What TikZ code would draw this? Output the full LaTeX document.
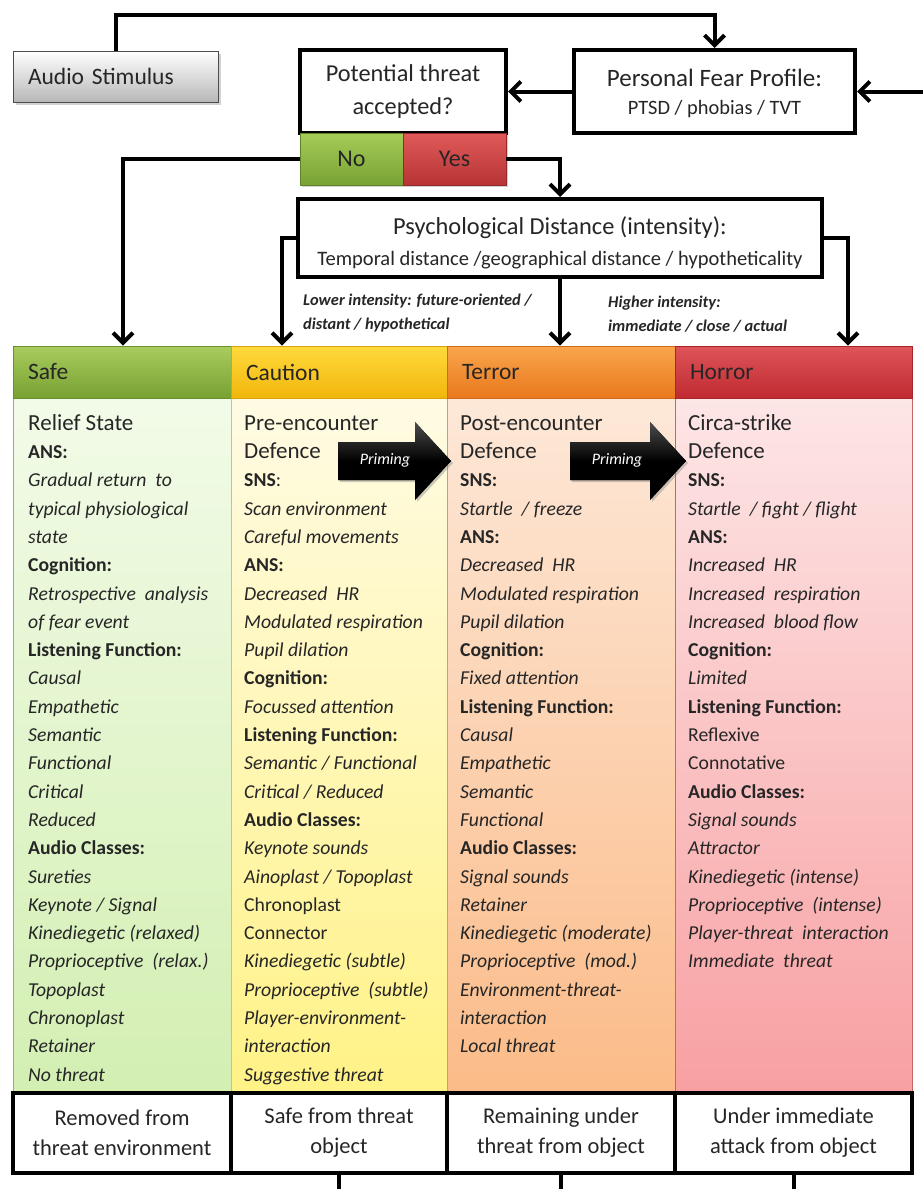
\documentclass[tikz,border=0pt]{standalone}
\usepackage{fontspec}
\setmainfont{Carlito}
\usetikzlibrary{arrows.meta,shadows,calc}

\definecolor{ink}{HTML}{262626}
% header bars
\definecolor{safeT}{HTML}{A9CD5E}\definecolor{safeB}{HTML}{78A032}\definecolor{safeD}{HTML}{6A8F2C}
\definecolor{cauT}{HTML}{FFDA3C}\definecolor{cauB}{HTML}{F2B60C}\definecolor{cauD}{HTML}{D9A20A}
\definecolor{terT}{HTML}{F9A64C}\definecolor{terB}{HTML}{E9781C}\definecolor{terD}{HTML}{D06A18}
\definecolor{horT}{HTML}{DE555A}\definecolor{horB}{HTML}{C02A30}\definecolor{horD}{HTML}{A82428}
% column bodies
\definecolor{safeLT}{HTML}{F2FBE8}\definecolor{safeLB}{HTML}{D3EFB2}
\definecolor{cauLT}{HTML}{FFFBE4}\definecolor{cauLB}{HTML}{FFF286}
\definecolor{terLT}{HTML}{FDE8D8}\definecolor{terLB}{HTML}{FBBB88}
\definecolor{horLT}{HTML}{FDE6E6}\definecolor{horLB}{HTML}{F8A0A2}
% decision buttons
\definecolor{noT}{HTML}{A6CC58}\definecolor{noB}{HTML}{78A234}
\definecolor{yesT}{HTML}{E05A5A}\definecolor{yesB}{HTML}{B83434}

% first line of a text block gets a fixed height so its top edge is predictable
\newcommand{\topline}{\rule{0pt}{19pt}}
\newcommand{\ttl}[1]{{\fontsize{23}{28.3}\selectfont #1}}
\newcommand{\lbl}[1]{\textbf{#1}}
\newcommand{\itm}[1]{\textit{#1}}

\begin{document}
\begin{tikzpicture}[x=1pt,y=-1pt,
  conn/.style={line width=4pt,-{Straight Barb[length=10pt,width=20pt]}},
  wire/.style={line width=4pt},
  thickbox/.style={draw=black,line width=4pt,fill=white,text=ink,align=center,inner sep=0pt},
  hdr/.style={draw=#1,line width=0.8pt,text=ink,align=left,inner xsep=15pt,inner ysep=0pt,
              minimum height=52pt,font=\fontsize{23.5}{26}\selectfont},
  coltext/.style={anchor=north west,align=left,inner sep=0pt,text=ink,
              font=\fontsize{19.7}{28.3}\selectfont},
  btn/.style={draw=#1,line width=0.6pt,minimum width=103pt,minimum height=52pt,inner sep=0pt,
              text=ink,font=\fontsize{24}{26}\selectfont,
              drop shadow={shadow xshift=2pt,shadow yshift=-2pt,opacity=0.35}},
  note/.style={anchor=north west,align=left,inner sep=0pt,text=ink,
              font=\fontsize{16.4}{24.5}\selectfont\bfseries\itshape},
  primer/.style={fill=black,top color=black!70,bottom color=black,middle color=black,
              drop shadow={shadow xshift=2pt,shadow yshift=-2pt,opacity=0.4}},
  primtext/.style={text=white,inner sep=0pt,font=\fontsize{16}{18}\selectfont\itshape}
]
\useasboundingbox (0,0) rectangle (923,1189);
\fill[white] (0,0) rectangle (923,1189);

% ---------- top row ----------
\node[draw=black!70,line width=0.8pt,top color=white,bottom color=black!28,
      minimum width=205pt,minimum height=51pt,text width=175pt,align=left,inner xsep=15pt,
      text=ink,font=\fontsize{23.5}{26}\selectfont,
      drop shadow={shadow xshift=3pt,shadow yshift=-3pt,opacity=0.35}]
  (audio) at (115.5,76.5) {Audio Stimulus};

\node[thickbox,minimum width=206pt,minimum height=83pt,font=\fontsize{24.3}{33}\selectfont]
  (pt) at (403,91.5) {Potential threat\\accepted?};

\node[thickbox,minimum width=281pt,minimum height=83pt,font=\fontsize{25}{28}\selectfont]
  (pfp) at (714.5,91.5) {\rule{0pt}{21pt}Personal Fear Profile:\\{\fontsize{20.4}{28}\selectfont PTSD / phobias / TVT}};

\node[btn=noB!80!black,top color=noT,bottom color=noB] (no) at (351.5,159) {No};
\node[btn=yesB!80!black,top color=yesT,bottom color=yesB] (yes) at (454.5,159) {Yes};

\node[thickbox,minimum width=524pt,minimum height=78pt,font=\fontsize{24.4}{31}\selectfont]
  (psd) at (560,238) {\rule{0pt}{27pt}Psychological Distance (intensity):\\
      {\fontsize{20.5}{31}\selectfont Temporal distance /geographical distance / hypotheticality}};

\node[note] (low) at (303,291) {\rule{0pt}{14pt}Lower intensity: future-oriented /\\distant / hypothetical};
\node[note] (high) at (608,293) {\rule{0pt}{14pt}Higher intensity:\\immediate / close / actual};

% ---------- column bodies ----------
\draw[draw=safeD!70,line width=0.8pt,top color=safeLT,bottom color=safeLB] (13,398) rectangle (231,1093);
\draw[draw=cauD!70,line width=0.8pt,top color=cauLT,bottom color=cauLB] (231,398) rectangle (447,1093);
\draw[draw=terD!70,line width=0.8pt,top color=terLT,bottom color=terLB] (447,398) rectangle (675,1093);
\draw[draw=horD!70,line width=0.8pt,top color=horLT,bottom color=horLB] (675,398) rectangle (912,1093);

% ---------- column headers ----------
\node[hdr=safeD,top color=safeT,bottom color=safeB,text width=188pt] (safeh) at (122,372) {Safe};
\node[hdr=cauD,top color=cauT,bottom color=cauB,text width=186pt] (cauh) at (339,372) {Caution};
\node[hdr=terD,top color=terT,bottom color=terB,text width=198pt] (terh) at (561,372) {Terror};
\node[hdr=horD,top color=horT,bottom color=horB,text width=207pt] (horh) at (793.5,372) {Horror};

% ---------- column contents ----------
\node[coltext] (safetxt) at (28,411) {%
  \topline\ttl{Relief State}\\
  \lbl{ANS:}\\
  \itm{Gradual return\ \ to}\\
  \itm{typical physiological}\\
  \itm{state}\\
  \lbl{Cognition:}\\
  \itm{Retrospective\ \ analysis}\\
  \itm{of fear event}\\
  \lbl{Listening Function:}\\
  \itm{Causal}\\
  \itm{Empathetic}\\
  \itm{Semantic}\\
  \itm{Functional}\\
  \itm{Critical}\\
  \itm{Reduced}\\
  \lbl{Audio Classes:}\\
  \itm{Sureties}\\
  \itm{Keynote / Signal}\\
  \itm{Kinediegetic (relaxed)}\\
  \itm{Proprioceptive\ \ (relax.)}\\
  \itm{Topoplast}\\
  \itm{Chronoplast}\\
  \itm{Retainer}\\
  \itm{No threat}};

\node[coltext] (cautxt) at (244,411) {%
  \topline\ttl{Pre-encounter}\\
  \ttl{Defence}\\
  \lbl{SNS}:\\
  \itm{Scan environment}\\
  \itm{Careful movements}\\
  \lbl{ANS:}\\
  \itm{Decreased\ \ HR}\\
  \itm{Modulated respiration}\\
  \itm{Pupil dilation}\\
  \lbl{Cognition:}\\
  \itm{Focussed attention}\\
  \lbl{Listening Function:}\\
  \itm{Semantic / Functional}\\
  \itm{Critical / Reduced}\\
  \lbl{Audio Classes:}\\
  \itm{Keynote sounds}\\
  \itm{Ainoplast / Topoplast}\\
  Chronoplast\\
  Connector\\
  \itm{Kinediegetic (subtle)}\\
  \itm{Proprioceptive\ \ (subtle)}\\
  \itm{Player-environment-}\\
  \itm{interaction}\\
  \itm{Suggestive threat}};

\node[coltext] (tertxt) at (460,411) {%
  \topline\ttl{Post-encounter}\\
  \ttl{Defence}\\
  \lbl{SNS:}\\
  \itm{Startle\ \ / freeze}\\
  \lbl{ANS:}\\
  \itm{Decreased\ \ HR}\\
  \itm{Modulated respiration}\\
  \itm{Pupil dilation}\\
  \lbl{Cognition:}\\
  \itm{Fixed attention}\\
  \lbl{Listening Function:}\\
  \itm{Causal}\\
  \itm{Empathetic}\\
  \itm{Semantic}\\
  \itm{Functional}\\
  \lbl{Audio Classes:}\\
  \itm{Signal sounds}\\
  \itm{Retainer}\\
  \itm{Kinediegetic (moderate)}\\
  \itm{Proprioceptive\ \ (mod.)}\\
  \itm{Environment-threat-}\\
  \itm{interaction}\\
  \itm{Local threat}};

\node[coltext] (hortxt) at (688,411) {%
  \topline\ttl{Circa-strike}\\
  \ttl{Defence}\\
  \lbl{SNS:}\\
  \itm{Startle\ \ / fight / flight}\\
  \lbl{ANS:}\\
  \itm{Increased\ \ HR}\\
  \itm{Increased\ \ respiration}\\
  \itm{Increased\ \ blood flow}\\
  \lbl{Cognition:}\\
  \itm{Limited}\\
  \lbl{Listening Function:}\\
  Reflexive\\
  Connotative\\
  \lbl{Audio Classes:}\\
  \itm{Signal sounds}\\
  \itm{Attractor}\\
  \itm{Kinediegetic (intense)}\\
  \itm{Proprioceptive\ \ (intense)}\\
  \itm{Player-threat\ \ interaction}\\
  \itm{Immediate\ \ threat}};

% ---------- priming arrows ----------
\path[primer] (338,442) -- (415,442) -- (415,422) -- (451,461) -- (415,500) -- (415,480) -- (338,480) -- cycle;
\node[primtext] (prime1) at (385,460) {Priming};
\path[primer] (570,442) -- (650,442) -- (650,422) -- (686,461) -- (650,500) -- (650,480) -- (570,480) -- cycle;
\node[primtext] (prime2) at (617,460) {Priming};

% ---------- outcome row ----------
\begin{scope}[every node/.style={thickbox,minimum height=80pt,font=\fontsize{22.5}{30}\selectfont}]
  \node[minimum width=218pt] (out1) at (122,1133) {Removed from\\threat environment};
  \node[minimum width=216pt] (out2) at (339,1133) {Safe from threat\\object};
  \node[minimum width=228pt] (out3) at (561,1133) {Remaining under\\threat from object};
  \node[minimum width=237pt] (out4) at (793.5,1133) {Under immediate\\attack from object};
\end{scope}

% ---------- connectors ----------
\coordinate (feedin) at (923,91.5);
\coordinate (down2) at (339,1189);
\coordinate (down3) at (561,1189);
\coordinate (down4) at (793.5,1189);

\draw[conn] (audio.north) -- ++(0,-36) -| (pfp.north);
\draw[conn] (feedin) -- (pfp.east);
\draw[conn] (pfp.west) -- (pt.east);
\draw[conn] (no.west) -| ([xshift=1pt]safeh.north);
\draw[conn] (yes.east) -| (psd.north);
\draw[conn] (psd.west) -| ([xshift=-57pt]cauh.north);
\draw[conn] (psd.east) -| ([xshift=54.5pt]horh.north);
\draw[conn] (psd.south) -- (psd.south |- terh.north);
\draw[wire] (out2.south) -- (down2);
\draw[wire] (out3.south) -- (down3);
\draw[wire] (out4.south) -- (down4);
\end{tikzpicture}
\end{document}
